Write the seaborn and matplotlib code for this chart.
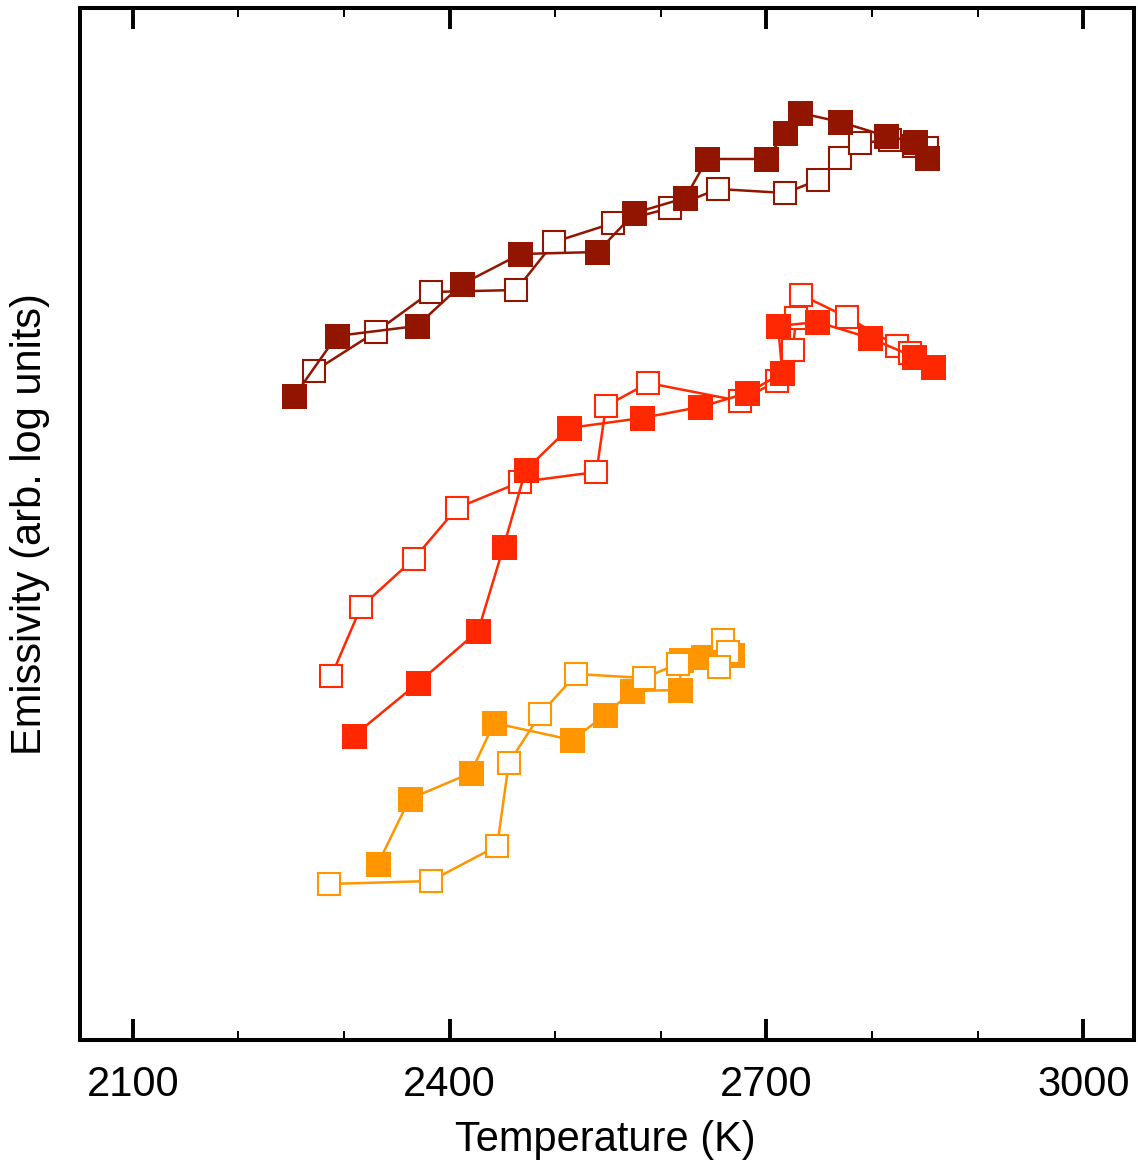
import matplotlib
matplotlib.use("Agg")
import matplotlib.pyplot as plt
import seaborn as sns
import pandas as pd
from matplotlib.ticker import MultipleLocator

# ---- data (temperature in K, emissivity in arbitrary log units) ----
dark_filled_T = [2253, 2293, 2369, 2412, 2467, 2540, 2575, 2623, 2644, 2700, 2718, 2732, 2770, 2813, 2841, 2852]
dark_filled_E = [64.4, 70.4, 71.4, 75.6, 78.6, 78.8, 82.7, 84.2, 88.1, 88.1, 90.7, 92.7, 91.8, 90.4, 89.8, 88.2]
dark_open_T = [2272, 2330, 2382, 2463, 2499, 2555, 2609, 2654, 2718, 2749, 2770, 2789, 2817, 2840, 2852]
dark_open_E = [66.9, 70.8, 74.8, 75.0, 79.8, 81.7, 83.2, 85.1, 84.7, 86.0, 88.2, 89.7, 90.0, 89.4, 89.2]

red_filled_T = [2309, 2370, 2427, 2451, 2472, 2513, 2582, 2637, 2682, 2715, 2711, 2748, 2798, 2840, 2858]
red_filled_E = [30.4, 35.7, 40.9, 49.3, 57.0, 61.2, 62.2, 63.3, 64.7, 66.7, 71.4, 71.8, 70.2, 68.3, 67.3]
red_open_T = [2288, 2316, 2366, 2407, 2467, 2539, 2548, 2588, 2675, 2710, 2725, 2728, 2733, 2776, 2824, 2836]
red_open_E = [36.4, 43.3, 48.1, 53.2, 55.8, 56.8, 63.4, 65.7, 63.9, 65.9, 69.0, 72.2, 74.5, 72.3, 69.4, 68.7]

orange_filled_T = [2332, 2362, 2420, 2442, 2516, 2547, 2573, 2618, 2619, 2640, 2667]
orange_filled_E = [17.6, 24.1, 26.7, 31.7, 30.0, 32.5, 34.9, 35.0, 38.0, 38.3, 38.5]
orange_open_T = [2286, 2382, 2445, 2456, 2486, 2520, 2584, 2616, 2659, 2664, 2655]
orange_open_E = [15.6, 15.9, 19.4, 27.7, 32.6, 36.6, 36.2, 37.6, 40.0, 38.8, 37.3]

x_ticks = [2100, 2400, 2700, 3000]

C_DARK = "#921500"
C_RED = "#FF2800"
C_ORANGE = "#FF9600"

sns.set_theme(style="white")
plt.rcParams["font.family"] = ["Liberation Sans", "DejaVu Sans"]
plt.rcParams["text.color"] = "black"
plt.rcParams["axes.labelcolor"] = "black"
plt.rcParams["xtick.color"] = "black"
plt.rcParams["xtick.labelcolor"] = "black"

fig = plt.figure(figsize=(11.38, 11.60), dpi=100)
ax = fig.add_axes([80 / 1138, 120 / 1160, 1054 / 1138, 1032 / 1160])

LW = 1.8
MS_F = 18
MS_O = 16.5


def draw(T, E, color, filled, z):
    df = pd.DataFrame({"T": T, "E": E})
    if filled:
        kw = dict(marker="s", markersize=MS_F, markerfacecolor=color,
                  markeredgecolor=color, markeredgewidth=0)
    else:
        kw = dict(marker="s", markersize=MS_O, markerfacecolor="white",
                  markeredgecolor=color, markeredgewidth=1.5)
    sns.lineplot(data=df, x="T", y="E", sort=False, estimator=None,
                 color=color, linewidth=LW, ax=ax, zorder=z, **kw)


draw(dark_open_T, dark_open_E, C_DARK, False, 3)
draw(dark_filled_T, dark_filled_E, C_DARK, True, 4)
draw(red_open_T, red_open_E, C_RED, False, 3)
draw(red_filled_T, red_filled_E, C_RED, True, 4)
draw(orange_filled_T, orange_filled_E, C_ORANGE, True, 3)
draw(orange_open_T, orange_open_E, C_ORANGE, False, 4)

ax.set_xlim(2050, 3048)
ax.set_ylim(0, 103.2)
ax.set_xticks(x_ticks)
ax.xaxis.set_minor_locator(MultipleLocator(100))
ax.set_yticks([])

ax.tick_params(axis="x", which="major", direction="in", length=15, width=2.8,
               top=True, bottom=True, labelsize=30, pad=18,
               colors="black", labelcolor="black")
ax.tick_params(axis="x", which="minor", direction="in", length=6.5, width=1.4,
               top=True, bottom=True, colors="black")

for s in ax.spines.values():
    s.set_visible(True)
    s.set_color("black")
    s.set_linewidth(2.9)

ax.set_xlabel("Temperature (K)", fontsize=30, color="black")
ax.set_ylabel("Emissivity (arb. log units)", fontsize=30, color="black")
ax.xaxis.set_label_coords(0.498, -0.078)
ax.yaxis.set_label_coords(-0.028, 0.5)

fig.savefig("out.png", dpi=100, facecolor="white")
